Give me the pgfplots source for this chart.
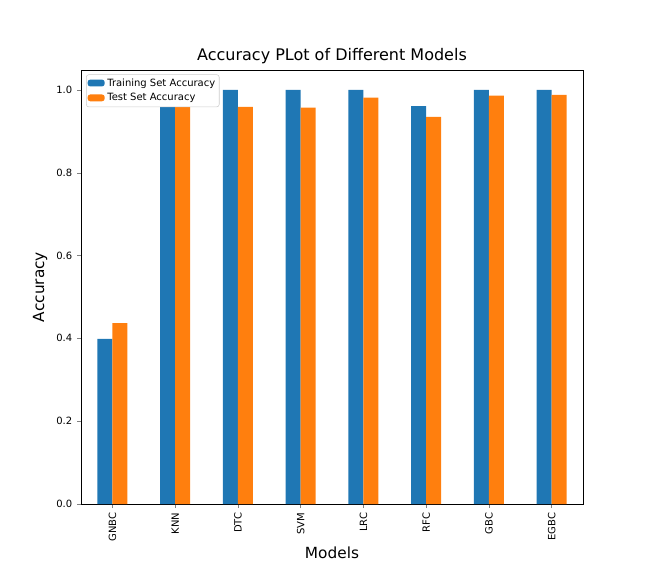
\documentclass[border=0pt]{standalone}
\usepackage{pgfplots}
\pgfplotsset{compat=1.18}
\usepackage{fontspec}
\setmainfont{DejaVu Sans}
\definecolor{mblue}{HTML}{1F77B4}
\definecolor{morange}{HTML}{FF7F0E}
\begin{document}
\begin{tikzpicture}
\path (-60.75pt,-54pt) rectangle (425.25pt,378pt);
\begin{axis}[
  at={(0,0)}, anchor=south west,
  scale only axis, width=376.5pt, height=325.5pt,
  ybar, bar width=11.25pt,
  xmin=-0.5, xmax=7.5, ymin=0, ymax=1.048,
  xtick=data, xticklabels={GNBC,KNN,DTC,SVM,LRC,RFC,GBC,EGBC},
  xticklabel style={rotate=90, anchor=east, font=\fontsize{7.5}{9}\selectfont},
  yticklabel style={font=\fontsize{7.5}{9}\selectfont},
  ytick={0,0.2,0.4,0.6,0.8,1.0},
  /pgf/number format/.cd, fixed, fixed zerofill, precision=1, assume math mode=true, /pgfplots/.cd,
  tick align=outside, major tick length=3pt, tick pos=left,
  title={Accuracy PLot of Different Models}, title style={font=\fontsize{12}{14}\selectfont, yshift=-5pt},
  xlabel={Models}, ylabel={Accuracy},
  xlabel style={yshift=3pt},
  label style={font=\fontsize{11.5}{13}\selectfont},
  legend style={at={(0.01,0.99)}, anchor=north west, font=\fontsize{7.5}{9}\selectfont, draw=black!20, rounded corners=2pt, inner sep=1pt},
  legend cell align=left,
  legend image code/.code={\fill[#1] (0cm,-0.08cm) rectangle (0.45cm,0.1cm);},
]
\addplot[fill=mblue, draw=none, bar shift=-5.625pt] coordinates {(0,0.399) (1,1.0) (2,1.0) (3,1.0) (4,1.0) (5,0.961) (6,1.0) (7,1.0)};
\addplot[fill=morange, draw=none, bar shift=5.625pt] coordinates {(0,0.437) (1,0.959) (2,0.959) (3,0.957) (4,0.981) (5,0.935) (6,0.986) (7,0.988)};
\legend{Training Set Accuracy, Test Set Accuracy}
\end{axis}
\end{tikzpicture}
\end{document}
